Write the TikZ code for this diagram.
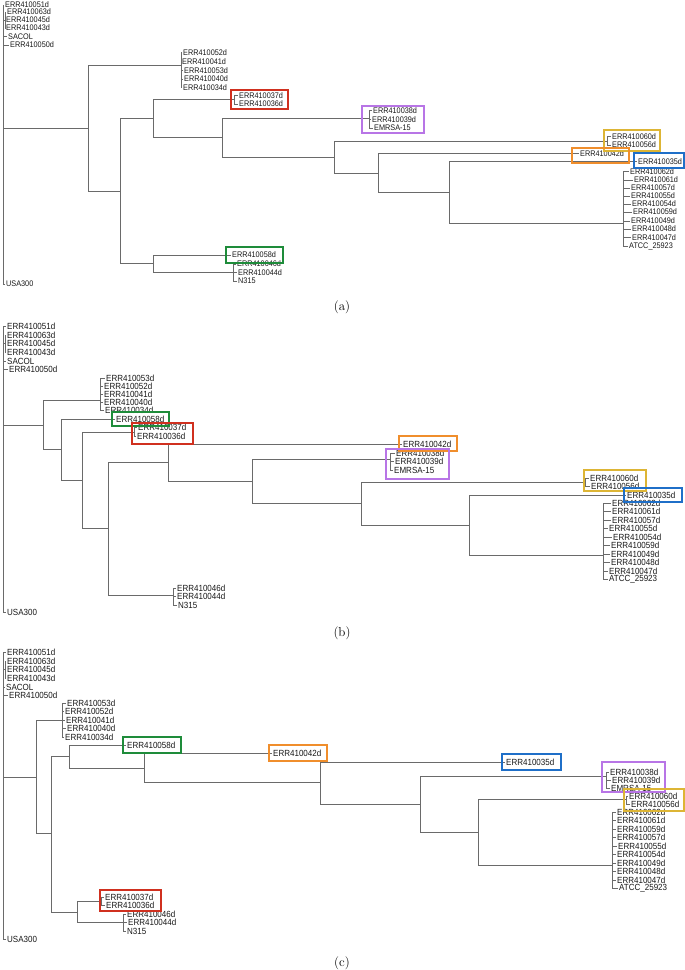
\documentclass[tikz,border=0pt]{standalone}
\usepackage{fontspec}
\newfontfamily\labfont[FakeStretch=0.9]{Liberation Sans}
\definecolor{treegray}{HTML}{6A6A6A}
\definecolor{bred}{HTML}{D0301F}
\definecolor{bpur}{HTML}{B875E6}
\definecolor{byel}{HTML}{DDB535}
\definecolor{bora}{HTML}{F08E2C}
\definecolor{bblu}{HTML}{1F6FC8}
\definecolor{bgrn}{HTML}{1E8C3A}
\tikzset{
  br/.style={draw=treegray, line width=0.9pt},
  brl/.style={draw=treegray, line width=0.9pt, shorten >=1.2pt},
  leafa/.style={anchor=west, inner sep=0pt, text=black!90, font=\labfont\fontsize{8.1}{9}\selectfont},
  leafb/.style={anchor=west, inner sep=0pt, text=black!90, font=\labfont\fontsize{8.9}{10}\selectfont},
  hbox/.style={line width=2.2pt},
  capnode/.style={inner sep=0pt, font=\fontsize{13}{15}\selectfont},
}
\begin{document}
\begin{tikzpicture}[x=1pt,y=-1pt]
\useasboundingbox (0,0) rectangle (685,970);
\fill[white] (0,0) rectangle (685,970);

%%%%%%%%%%%%%%%% PANEL A %%%%%%%%%%%%%%%%
\coordinate (aR) at (3,128);
\coordinate (aS) at (5,20);
\coordinate (a1) at (88,128);
\coordinate (aC1) at (181,65);
\coordinate (a2) at (120,191);
\coordinate (a3) at (153,118);
\coordinate (aRB) at (234,99);
\coordinate (a5) at (222,137);
\coordinate (aPB) at (369,118);
\coordinate (a6) at (334,157);
\coordinate (aYB) at (607,141);
\coordinate (a7) at (378,173);
\coordinate (a8) at (449,192);
\coordinate (aBB) at (623,223);
\coordinate (a4) at (153,263);
\coordinate (aGB) at (233,272);

\node[leafa] (a051) at (5,5) {ERR410051d};
\node[leafa] (a063) at (7,12) {ERR410063d};
\node[leafa] (a045) at (6,19.5) {ERR410045d};
\node[leafa] (a043) at (6,28) {ERR410043d};
\node[leafa] (asac) at (8,36.5) {SACOL};
\node[leafa] (a050) at (10,45) {ERR410050d};
\node[leafa] (ausa) at (6,284) {USA300};
\node[leafa] (a052) at (183,52.7) {ERR410052d};
\node[leafa] (a041) at (182,61.7) {ERR410041d};
\node[leafa] (a053) at (184,70.7) {ERR410053d};
\node[leafa] (a040) at (184,79) {ERR410040d};
\node[leafa] (a034) at (183,87.3) {ERR410034d};
\node[leafa] (a037) at (239,95.5) {ERR410037d};
\node[leafa] (a036) at (239,104) {ERR410036d};
\node[leafa] (a038) at (373,110.5) {ERR410038d};
\node[leafa] (a039) at (372,119.5) {ERR410039d};
\node[leafa] (aemr) at (374,128) {EMRSA-15};
\node[leafa] (a060) at (612,136.5) {ERR410060d};
\node[leafa] (a056) at (612,145) {ERR410056d};
\node[leafa] (a042) at (580,153.5) {ERR410042d};
\node[leafa] (a035) at (638,161.5) {ERR410035d};
\node[leafa] (a062) at (630,171.7) {ERR410062d};
\node[leafa] (a061) at (634,180) {ERR410061d};
\node[leafa] (a057) at (631,188) {ERR410057d};
\node[leafa] (a055) at (631,196) {ERR410055d};
\node[leafa] (a054) at (632,204) {ERR410054d};
\node[leafa] (a059) at (633,212) {ERR410059d};
\node[leafa] (a049) at (631,221) {ERR410049d};
\node[leafa] (a048) at (632,229) {ERR410048d};
\node[leafa] (a047) at (632,237.5) {ERR410047d};
\node[leafa] (aatc) at (629,246.5) {ATCC\_25923};
\node[leafa] (a058) at (232,255) {ERR410058d};
\node[leafa] (a046) at (237,264) {ERR410046d};
\node[leafa] (a044) at (238,272.5) {ERR410044d};
\node[leafa] (an315) at (238,281) {N315};

\foreach \t in {a051,asac,a050,ausa} \draw[brl] (aR) |- (\t.west);
\draw[br] (aR) |- (aS);
\draw[br] (aR) -- (a1);
\foreach \t in {a063,a045,a043} \draw[brl] (aS) |- (\t.west);
\draw[br] (a1) |- (aC1);
\draw[br] (a1) |- (a2);
\foreach \t in {a052,a041,a053,a040,a034} \draw[brl] (aC1) |- (\t.west);
\draw[br] (a2) |- (a3);
\draw[br] (a2) |- (a4);
\draw[br] (a3) |- (aRB);
\draw[br] (a3) |- (a5);
\foreach \t in {a037,a036} \draw[brl] (aRB) |- (\t.west);
\draw[br] (a5) |- (aPB);
\draw[br] (a5) |- (a6);
\foreach \t in {a038,a039,aemr} \draw[brl] (aPB) |- (\t.west);
\draw[br] (a6) |- (aYB);
\draw[br] (a6) |- (a7);
\foreach \t in {a060,a056} \draw[brl] (aYB) |- (\t.west);
\draw[brl] (a7) |- (a042.west);
\draw[br] (a7) |- (a8);
\draw[brl] (a8) |- (a035.west);
\draw[br] (a8) |- (aBB);
\foreach \t in {a062,a061,a057,a055,a054,a059,a049,a048,a047,aatc} \draw[brl] (aBB) |- (\t.west);
\draw[brl] (a4) |- (a058.west);
\draw[br] (a4) |- (aGB);
\foreach \t in {a046,a044,an315} \draw[brl] (aGB) |- (\t.west);

\draw[hbox,bred] (231,90) rectangle (288,109);
\draw[hbox,bpur] (362,106) rectangle (424,133);
\draw[hbox,byel] (604,130) rectangle (660,151);
\draw[hbox,bora] (572,148) rectangle (629,163);
\draw[hbox,bblu] (634,153) rectangle (684,168);
\draw[hbox,bgrn] (226,247) rectangle (283,263);

\node[capnode] (capa) at (342,307) {(a)};

%%%%%%%%%%%%%%%% PANEL B %%%%%%%%%%%%%%%%
\coordinate (bR) at (3,425);
\coordinate (bS) at (5,343);
\coordinate (b1) at (43,425);
\coordinate (bC1) at (100,400);
\coordinate (b2) at (61,449);
\coordinate (b3) at (82,480);
\coordinate (bRB) at (134,432);
\coordinate (b4) at (108,528);
\coordinate (b5) at (168,462);
\coordinate (b6) at (252,481);
\coordinate (bPB) at (390,459);
\coordinate (b7) at (361,503);
\coordinate (bYB) at (585,482);
\coordinate (b8) at (469,525);
\coordinate (bBB) at (603,555);
\coordinate (bGB) at (173,595);

\node[leafb] (b051) at (7,326) {ERR410051d};
\node[leafb] (b063) at (7,335) {ERR410063d};
\node[leafb] (b045) at (7,343) {ERR410045d};
\node[leafb] (b043) at (7,352) {ERR410043d};
\node[leafb] (bsac) at (7,361) {SACOL};
\node[leafb] (b050) at (9,369) {ERR410050d};
\node[leafb] (busa) at (7,612) {USA300};
\node[leafb] (b053) at (106,378) {ERR410053d};
\node[leafb] (b052) at (104,386) {ERR410052d};
\node[leafb] (b041) at (104,394) {ERR410041d};
\node[leafb] (b040) at (104,402) {ERR410040d};
\node[leafb] (b034) at (105,410) {ERR410034d};
\node[leafb] (b058) at (116,419.5) {ERR410058d};
\node[leafb] (b037) at (138,427.5) {ERR410037d};
\node[leafb] (b036) at (137,436) {ERR410036d};
\node[leafb] (b042) at (403,444) {ERR410042d};
\node[leafb] (b038) at (396,453) {ERR410038d};
\node[leafb] (b039) at (395,461) {ERR410039d};
\node[leafb] (bemr) at (394,470) {EMRSA-15};
\node[leafb] (b060) at (590,478) {ERR410060d};
\node[leafb] (b056) at (591,486) {ERR410056d};
\node[leafb] (b035) at (627,495) {ERR410035d};
\node[leafb] (b062) at (612,503) {ERR410062d};
\node[leafb] (b061) at (612,511.5) {ERR410061d};
\node[leafb] (b057) at (612,520) {ERR410057d};
\node[leafb] (b055) at (609,528.5) {ERR410055d};
\node[leafb] (b054) at (613,537) {ERR410054d};
\node[leafb] (b059) at (611,545.5) {ERR410059d};
\node[leafb] (b049) at (611,554) {ERR410049d};
\node[leafb] (b048) at (611,562.5) {ERR410048d};
\node[leafb] (b047) at (609,571) {ERR410047d};
\node[leafb] (batc) at (609,579.5) {ATCC\_25923};
\node[leafb] (b046) at (177,588) {ERR410046d};
\node[leafb] (b044) at (177,596.5) {ERR410044d};
\node[leafb] (bn315) at (178,605) {N315};

\foreach \t in {b051,bsac,b050,busa} \draw[brl] (bR) |- (\t.west);
\draw[br] (bR) |- (bS);
\draw[br] (bR) -- (b1);
\foreach \t in {b063,b045,b043} \draw[brl] (bS) |- (\t.west);
\draw[br] (b1) |- (bC1);
\draw[br] (b1) |- (b2);
\foreach \t in {b053,b052,b041,b040,b034} \draw[brl] (bC1) |- (\t.west);
\draw[brl] (b2) |- (b058.west);
\draw[br] (b2) |- (b3);
\draw[br] (b3) |- (bRB);
\draw[br] (b3) |- (b4);
\foreach \t in {b037,b036} \draw[brl] (bRB) |- (\t.west);
\draw[br] (b4) |- (b5);
\draw[br] (b4) |- (bGB);
\draw[brl] (b5) |- (b042.west);
\draw[br] (b5) |- (b6);
\draw[br] (b6) |- (bPB);
\draw[br] (b6) |- (b7);
\foreach \t in {b038,b039,bemr} \draw[brl] (bPB) |- (\t.west);
\draw[br] (b7) |- (bYB);
\draw[br] (b7) |- (b8);
\foreach \t in {b060,b056} \draw[brl] (bYB) |- (\t.west);
\draw[brl] (b8) |- (b035.west);
\draw[br] (b8) |- (bBB);
\foreach \t in {b062,b061,b057,b055,b054,b059,b049,b048,b047,batc} \draw[brl] (bBB) |- (\t.west);
\foreach \t in {b046,b044,bn315} \draw[brl] (bGB) |- (\t.west);

\draw[hbox,bgrn] (112,412) rectangle (169,426);
\draw[hbox,bred] (132,423) rectangle (193,444);
\draw[hbox,bora] (399,436) rectangle (457,451);
\draw[hbox,bpur] (386,449) rectangle (449,479);
\draw[hbox,byel] (584,470) rectangle (646,491);
\draw[hbox,bblu] (624,488) rectangle (682,502);

\node[capnode] (capb) at (342,633) {(b)};

%%%%%%%%%%%%%%%% PANEL C %%%%%%%%%%%%%%%%
\coordinate (cR) at (3,777);
\coordinate (cS) at (5,669);
\coordinate (c1) at (36,777);
\coordinate (cC1) at (62,720);
\coordinate (c2) at (51,833);
\coordinate (c3) at (69,756);
\coordinate (c5) at (144,768);
\coordinate (c6) at (320,782);
\coordinate (c7) at (420,804);
\coordinate (cPB) at (606,776);
\coordinate (c8) at (478,832);
\coordinate (cYB) at (626,799);
\coordinate (cBB) at (612,865);
\coordinate (c4) at (77,912);
\coordinate (cRB) at (101,901);
\coordinate (cGB) at (123,922);

\node[leafb] (c051) at (7,652) {ERR410051d};
\node[leafb] (c063) at (7,661) {ERR410063d};
\node[leafb] (c045) at (7,669) {ERR410045d};
\node[leafb] (c043) at (7,678) {ERR410043d};
\node[leafb] (csac) at (6,687) {SACOL};
\node[leafb] (c050) at (9,695) {ERR410050d};
\node[leafb] (cusa) at (7,939) {USA300};
\node[leafb] (c053) at (67,703) {ERR410053d};
\node[leafb] (c052) at (65,711.5) {ERR410052d};
\node[leafb] (c041) at (66,720) {ERR410041d};
\node[leafb] (c040) at (67,728.5) {ERR410040d};
\node[leafb] (c034) at (65,737) {ERR410034d};
\node[leafb] (c058) at (127,745.5) {ERR410058d};
\node[leafb] (c042) at (273,753.5) {ERR410042d};
\node[leafb] (c035) at (506,762) {ERR410035d};
\node[leafb] (c038) at (610,772) {ERR410038d};
\node[leafb] (c039) at (612,780) {ERR410039d};
\node[leafb] (cemr) at (611,788) {EMRSA-15};
\node[leafb] (c060) at (629,796) {ERR410060d};
\node[leafb] (c056) at (631,804) {ERR410056d};
\node[leafb] (c062) at (617,812) {ERR410062d};
\node[leafb] (c061) at (617,820.5) {ERR410061d};
\node[leafb] (c059) at (617,829) {ERR410059d};
\node[leafb] (c057) at (617,837.5) {ERR410057d};
\node[leafb] (c055) at (618,846) {ERR410055d};
\node[leafb] (c054) at (617,854.5) {ERR410054d};
\node[leafb] (c049) at (617,863) {ERR410049d};
\node[leafb] (c048) at (617,871.5) {ERR410048d};
\node[leafb] (c047) at (617,880) {ERR410047d};
\node[leafb] (catc) at (619,888.5) {ATCC\_25923};
\node[leafb] (c037) at (105,897) {ERR410037d};
\node[leafb] (c036) at (106,905.5) {ERR410036d};
\node[leafb] (c046) at (127,914) {ERR410046d};
\node[leafb] (c044) at (128,922.5) {ERR410044d};
\node[leafb] (cn315) at (127,931) {N315};

\foreach \t in {c051,csac,c050,cusa} \draw[brl] (cR) |- (\t.west);
\draw[br] (cR) |- (cS);
\draw[br] (cR) -- (c1);
\foreach \t in {c063,c045,c043} \draw[brl] (cS) |- (\t.west);
\draw[br] (c1) |- (cC1);
\draw[br] (c1) |- (c2);
\foreach \t in {c053,c052,c041,c040,c034} \draw[brl] (cC1) |- (\t.west);
\draw[br] (c2) |- (c3);
\draw[br] (c2) |- (c4);
\draw[brl] (c3) |- (c058.west);
\draw[br] (c3) |- (c5);
\draw[brl] (c5) |- (c042.west);
\draw[br] (c5) |- (c6);
\draw[brl] (c6) |- (c035.west);
\draw[br] (c6) |- (c7);
\draw[br] (c7) |- (cPB);
\draw[br] (c7) |- (c8);
\foreach \t in {c038,c039,cemr} \draw[brl] (cPB) |- (\t.west);
\draw[br] (c8) |- (cYB);
\draw[br] (c8) |- (cBB);
\foreach \t in {c060,c056} \draw[brl] (cYB) |- (\t.west);
\foreach \t in {c062,c061,c059,c057,c055,c054,c049,c048,c047,catc} \draw[brl] (cBB) |- (\t.west);
\draw[br] (c4) |- (cRB);
\draw[br] (c4) |- (cGB);
\foreach \t in {c037,c036} \draw[brl] (cRB) |- (\t.west);
\foreach \t in {c046,c044,cn315} \draw[brl] (cGB) |- (\t.west);

\draw[hbox,bgrn] (123,737) rectangle (181,753);
\draw[hbox,bora] (269,745) rectangle (327,761);
\draw[hbox,bred] (100,890) rectangle (161,911);
\draw[hbox,bblu] (502,754) rectangle (561,770);
\draw[hbox,bpur] (602,762) rectangle (665,792);
\draw[hbox,byel] (624,789) rectangle (684,811);

\node[capnode] (capc) at (342,963) {(c)};
\end{tikzpicture}
\end{document}
